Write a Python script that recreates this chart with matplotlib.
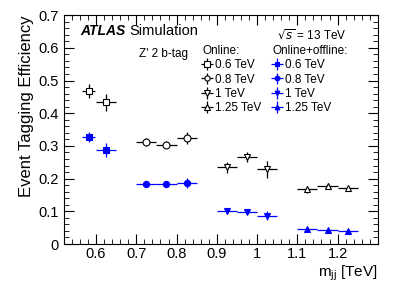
import numpy as np
import matplotlib
matplotlib.use("Agg")
import matplotlib.pyplot as plt
from matplotlib.ticker import MultipleLocator

masses = ["0.6 TeV", "0.8 TeV", "1 TeV", "1.25 TeV"]
markers = ["s", "o", "v", "^"]

# bin centres and half widths per mass point
x_06 = [0.5815, 0.625]
xe_06 = [0.0165, 0.025]
x_08 = [0.725, 0.775, 0.825]
x_10 = [0.925, 0.975, 1.025]
x_125 = [1.125, 1.175, 1.225]
xe_w = [0.025, 0.025, 0.025]

on_06 = [0.469, 0.433]
on_06_err = [0.021, 0.025]
on_08 = [0.313, 0.304, 0.325]
on_08_err = [0.012, 0.010, 0.018]
on_10 = [0.235, 0.266, 0.228]
on_10_err = [0.017, 0.015, 0.025]
on_125 = [0.167, 0.178, 0.170]
on_125_err = [0.010, 0.008, 0.008]

off_06 = [0.327, 0.288]
off_06_err = [0.015, 0.022]
off_08 = [0.185, 0.184, 0.186]
off_08_err = [0.007, 0.006, 0.015]
off_10 = [0.101, 0.098, 0.087]
off_10_err = [0.008, 0.006, 0.015]
off_125 = [0.047, 0.043, 0.040]
off_125_err = [0.004, 0.003, 0.003]

xs = [x_06, x_08, x_10, x_125]
xes = [xe_06, xe_w, xe_w, xe_w]
ons = [on_06, on_08, on_10, on_125]
on_errs = [on_06_err, on_08_err, on_10_err, on_125_err]
offs = [off_06, off_08, off_10, off_125]
off_errs = [off_06_err, off_08_err, off_10_err, off_125_err]

plt.rcParams["font.family"] = ["Liberation Sans", "DejaVu Sans"]

fig = plt.figure(figsize=(3.99, 2.91), dpi=100)
ax = fig.add_axes([0.160, 0.1615, 0.787, 0.7865])

h_on = []
h_off = []
for i in range(4):
    h = ax.errorbar(xs[i], ons[i], xerr=xes[i], yerr=on_errs[i], fmt=markers[i],
                    color="black", mfc="white", mec="black", ms=5, mew=0.8,
                    elinewidth=0.9, capsize=0, label=masses[i])
    h_on.append(h)
    h = ax.errorbar(xs[i], offs[i], xerr=xes[i], yerr=off_errs[i], fmt=markers[i],
                    color="blue", mfc="blue", mec="blue", ms=4.5, mew=0.8,
                    elinewidth=0.9, capsize=0, label=masses[i])
    h_off.append(h)

ax.set_xlim(0.52, 1.3)
ax.set_ylim(0, 0.7)
ax.xaxis.set_minor_locator(MultipleLocator(0.02))
ax.yaxis.set_minor_locator(MultipleLocator(0.02))
ax.set_xticks([0.6, 0.7, 0.8, 0.9, 1.0, 1.1, 1.2])
ax.set_xticklabels(["0.6", "0.7", "0.8", "0.9", "1", "1.1", "1.2"])
ax.set_yticks([0, 0.1, 0.2, 0.3, 0.4, 0.5, 0.6, 0.7])
ax.set_yticklabels(["0", "0.1", "0.2", "0.3", "0.4", "0.5", "0.6", "0.7"])
ax.tick_params(which="both", direction="in", top=True, right=True, labelsize=10.5)
ax.tick_params(which="major", length=7)
ax.tick_params(which="minor", length=3.5)
ax.tick_params(axis="x", pad=2)

ax.set_ylabel("Event Tagging Efficiency", fontsize=12, loc="top", labelpad=3)
ax.set_xlabel(r"m$_{\mathregular{jj}}$ [TeV]", fontsize=11, loc="right", labelpad=2)

ax.text(0.051, 0.93, "ATLAS", transform=ax.transAxes, fontsize=10,
        fontweight="bold", fontstyle="italic", va="center")
ax.text(0.208, 0.93, "Simulation", transform=ax.transAxes, fontsize=10.5, va="center")
ax.text(0.24, 0.83, "Z' 2 b-tag", transform=ax.transAxes, fontsize=8.5, va="center")
ax.text(0.68, 0.91, r"$\sqrt{s}$ = 13 TeV", transform=ax.transAxes, fontsize=8.5, va="center")

leg_kw = dict(loc="upper left", frameon=False, fontsize=8.5, title_fontsize=8.5,
              alignment="left", handlelength=0.9, handletextpad=0.2,
              labelspacing=0.2, borderaxespad=0, borderpad=0, markerscale=0.75)
leg1 = ax.legend(handles=h_on, title="Online:", bbox_to_anchor=(0.44, 0.87), **leg_kw)
ax.add_artist(leg1)
ax.legend(handles=h_off, title="Online+offline:", bbox_to_anchor=(0.663, 0.87), **leg_kw)

fig.savefig("out.png", dpi=100)
